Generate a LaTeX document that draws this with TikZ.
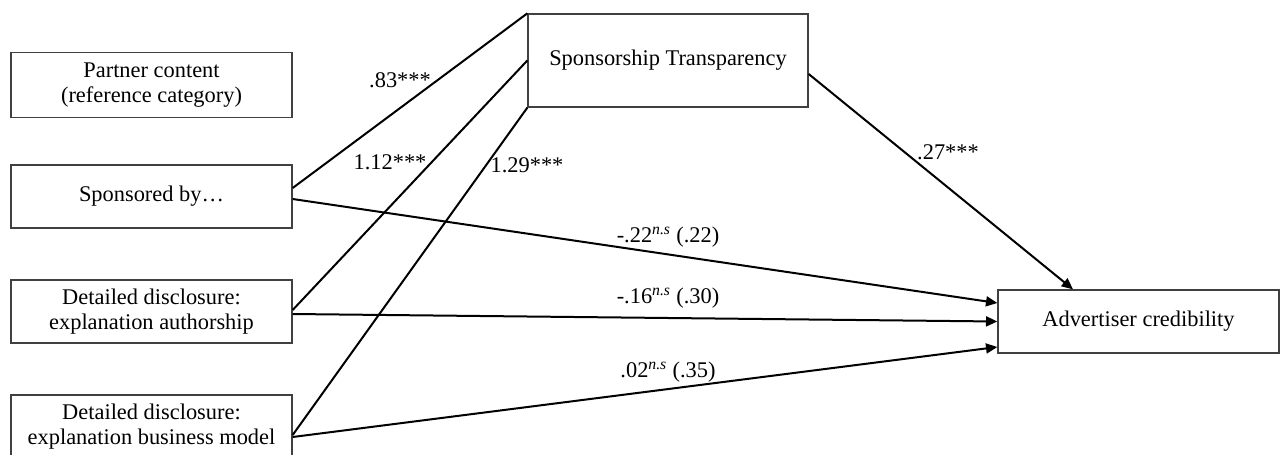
\documentclass[tikz,border=0pt]{standalone}
\usepackage{fontspec}
\setmainfont{Liberation Serif}
\usetikzlibrary{arrows.meta,calc}
\begin{document}
\begin{tikzpicture}[x=0.75pt,y=-0.75pt,
  box/.style={draw=black!75, line width=1pt, inner sep=0pt, align=center,
    font=\fontsize{16.8}{18.75}\selectfont},
  conn/.style={line width=1.5pt, black},
  arr/.style={conn, -{Triangle[length=8.5pt,width=7.5pt]}},
  lab/.style={font=\fontsize{16.8}{18.75}\selectfont, inner sep=0pt}]
\useasboundingbox[fill=white] (0,0) rectangle (1283,454);
\node[box, minimum width=210.75pt, minimum height=48.75pt] (partner) at (151.5,85) {Partner content\\(reference category)};
\node[box, minimum width=210.75pt, minimum height=47.25pt] (spons) at (151.5,196.5) {Sponsored by…};
\node[box, minimum width=210.75pt, minimum height=47.25pt] (auth) at (151.5,311.5) {Detailed disclosure:\\explanation authorship};
\node[box, minimum width=210.75pt, minimum height=47.25pt] (bus) at (151.5,426.5) {Detailed disclosure:\\explanation business model};
\node[box, minimum width=210pt, minimum height=69.75pt] (st) at (668,60.5) {Sponsorship Transparency};
\node[box, minimum width=210.75pt, minimum height=47.25pt] (adv) at (1138.5,321.5) {Advertiser credibility};
% paths to mediator
\draw[conn] ($(spons.east)+(0,-8.5)$) -- (st.north west);
\draw[conn] ($(auth.east)+(0,-1.5)$) -- (st.west);
\draw[conn] ($(bus.east)+(0,8.5)$) -- (st.south west);
% direct paths
\draw[arr] ($(spons.east)+(0,2.5)$) -- ($(adv.west)+(0,-18.5)$);
\draw[arr] ($(auth.east)+(0,2.5)$) -- (adv.west);
\draw[arr] ($(bus.east)+(0,10.5)$) -- ($(adv.west)+(0,25.5)$);
\draw[arr] ($(st.east)+(0,13.5)$) -- ($(adv.north)+(-65.5,0)$);
% labels
\node[lab] (l1) at (400,80) {.83***};
\node[lab] (l2) at (390,162) {1.12***};
\node[lab] (l3) at (527,165) {1.29***};
\node[lab] (l4) at (948,152) {.27***};
\node[lab] (l5) at (668,237) {-.22\textsuperscript{\textit{n.s}} (.22)};
\node[lab] (l6) at (668,298) {-.16\textsuperscript{\textit{n.s}} (.30)};
\node[lab] (l7) at (668,372) {.02\textsuperscript{\textit{n.s}} (.35)};
\end{tikzpicture}
\end{document}
